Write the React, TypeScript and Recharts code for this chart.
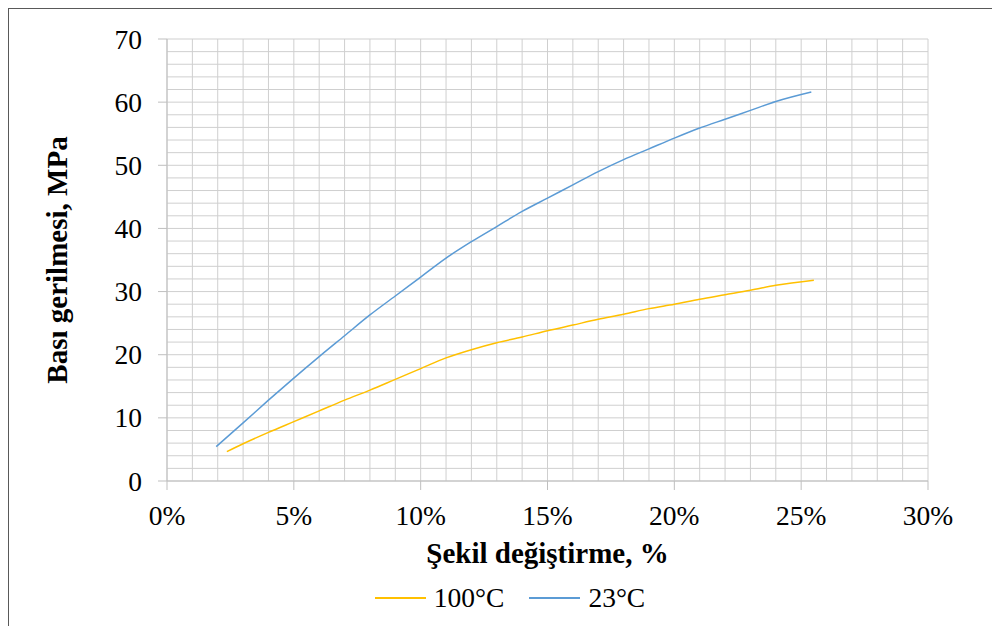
import React from "react"
import { LineChart, Line, XAxis, YAxis, CartesianGrid, Legend, Label } from "recharts"

// strain in %, stress in MPa
const strain100 = [2.36, 3, 4, 5, 6, 7, 8, 9, 10, 11, 12, 13, 14, 15, 16, 17, 18, 19, 20, 21, 22, 23, 24, 25.5]
const stress100 = [4.65, 5.9, 7.7, 9.4, 11.1, 12.8, 14.4, 16.1, 17.8, 19.5, 20.8, 21.9, 22.8, 23.8, 24.7, 25.6, 26.4, 27.3, 28.0, 28.8, 29.5, 30.2, 31.0, 31.8]

const strain23 = [1.94, 3, 4, 5, 6, 7, 8, 9, 10, 11, 12, 13, 14, 15, 16, 17, 18, 19, 20, 21, 22, 23, 24, 25.4]
const stress23 = [5.45, 9.2, 12.8, 16.3, 19.7, 23.0, 26.3, 29.3, 32.3, 35.3, 37.9, 40.3, 42.7, 44.8, 46.9, 49.0, 50.9, 52.6, 54.3, 55.9, 57.3, 58.7, 60.1, 61.6]

const seriesNames = ["100°C", "23°C"]
const seriesColors = ["#FFC000", "#5B9BD5"]

// grid every 1% / 2 MPa, labels every 5% / 10 MPa
const xTicks = [0, 1, 2, 3, 4, 5, 6, 7, 8, 9, 10, 11, 12, 13, 14, 15, 16, 17, 18, 19, 20, 21, 22, 23, 24, 25, 26, 27, 28, 29, 30]
const xLabels = [0, 5, 10, 15, 20, 25, 30]
const yTicks = [0, 2, 4, 6, 8, 10, 12, 14, 16, 18, 20, 22, 24, 26, 28, 30, 32, 34, 36, 38, 40, 42, 44, 46, 48, 50, 52, 54, 56, 58, 60, 62, 64, 66, 68, 70]
const yLabels = [0, 10, 20, 30, 40, 50, 60, 70]

const data100 = strain100.map((x, i) => ({ x, y: stress100[i] }))
const data23 = strain23.map((x, i) => ({ x, y: stress23[i] }))

const FONT = "'Liberation Serif', 'Times New Roman', serif"
const AXIS = "#bfbfbf"
const GRID = "#cfcfcf"

const XTick = (props: any) => {
  const { x, y, payload } = props
  if (!xLabels.includes(payload.value)) return <g />
  return (
    <g>
      <line x1={x} x2={x} y1={y} y2={y + 9} stroke={AXIS} />
      <text x={x} y={y + 44} textAnchor="middle" style={{ fontFamily: FONT, fontSize: 27.5 }} fill="#000">
        {payload.value}%
      </text>
    </g>
  )
}

const YTick = (props: any) => {
  const { x, y, payload } = props
  if (!yLabels.includes(payload.value)) return <g />
  return (
    <g>
      <line x1={x - 9} x2={x} y1={y} y2={y} stroke={AXIS} />
      <text x={x - 25} y={y + 9.5} textAnchor="end" style={{ fontFamily: FONT, fontSize: 27.5 }} fill="#000">
        {payload.value}
      </text>
    </g>
  )
}

const LegendBox = () => (
  <div
    style={{
      height: 50,
      display: "flex",
      justifyContent: "center",
      alignItems: "center",
      paddingLeft: 11,
      paddingBottom: 6,
      boxSizing: "border-box",
      fontFamily: FONT,
      fontSize: 27.5,
      color: "#000",
    }}
  >
    {seriesNames.map((name, i) => (
      <div key={name} style={{ display: "flex", alignItems: "center", marginRight: i === 0 ? 25 : 0 }}>
        <div style={{ width: 51, height: 1.5, background: seriesColors[i], marginRight: 8 }} />
        <span>{name}</span>
      </div>
    ))}
  </div>
)

export default function App() {
  return (
    <div
      style={{
        width: 992,
        height: 618,
        borderLeft: "1px solid #595959",
        borderTop: "1px solid #595959",
        boxSizing: "border-box",
        background: "#fff",
      }}
    >
      <LineChart width={991} height={617} margin={{ top: 30, right: 72, bottom: 0, left: 0 }}>
        <CartesianGrid stroke={GRID} />
        <XAxis
          type="number"
          dataKey="x"
          domain={[0, 30]}
          ticks={xTicks}
          interval={0}
          tickLine={false}
          tickSize={0}
          tickMargin={0}
          tick={XTick}
          height={95}
          stroke={AXIS}
        >
          <Label
            content={(p: any) => {
              const vb = p.viewBox || { x: 158, y: 472, width: 761 }
              return (
                <text
                  x={vb.x + vb.width / 2}
                  y={vb.y + 82}
                  textAnchor="middle"
                  style={{ fontFamily: FONT, fontSize: 29, fontWeight: "bold" }}
                  fill="#000"
                >
                  Şekil değiştirme, %
                </text>
              )
            }}
          />
        </XAxis>
        <YAxis
          type="number"
          dataKey="y"
          domain={[0, 70]}
          ticks={yTicks}
          interval={0}
          tickLine={false}
          tickSize={0}
          tickMargin={0}
          tick={YTick}
          width={158}
          stroke={AXIS}
        >
          <Label
            content={(p: any) => {
              const vb = p.viewBox || { y: 30, height: 442 }
              const cx = 48
              const cy = vb.y + vb.height / 2
              return (
                <text
                  x={cx}
                  y={cy}
                  dy="0.35em"
                  transform={`rotate(-90 ${cx} ${cy})`}
                  textAnchor="middle"
                  style={{ fontFamily: FONT, fontSize: 29, fontWeight: "bold" }}
                  fill="#000"
                >
                  Bası gerilmesi, MPa
                </text>
              )
            }}
          />
        </YAxis>
        <Legend verticalAlign="bottom" content={LegendBox} wrapperStyle={{ left: 0, width: 991 }} />
        <Line
          data={data100}
          dataKey="y"
          name={seriesNames[0]}
          type="monotone"
          stroke={seriesColors[0]}
          strokeWidth={1.5}
          dot={false}
          isAnimationActive={false}
        />
        <Line
          data={data23}
          dataKey="y"
          name={seriesNames[1]}
          type="monotone"
          stroke={seriesColors[1]}
          strokeWidth={1.5}
          dot={false}
          isAnimationActive={false}
        />
      </LineChart>
    </div>
  )
}
